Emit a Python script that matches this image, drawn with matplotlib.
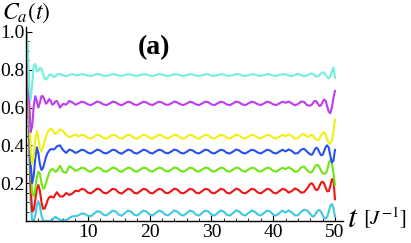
import numpy as np
import matplotlib
matplotlib.use('Agg')
import matplotlib.pyplot as plt
from matplotlib.ticker import MultipleLocator, FixedLocator

plt.rcParams['font.family'] = ['Liberation Serif', 'DejaVu Serif']
plt.rcParams['mathtext.fontset'] = 'stix'

# time grid (J^-1)
t = np.concatenate([np.arange(0, 5, 0.25), np.arange(5, 46, 0.5), np.arange(46, 50.001, 0.25)])

turquoise = [
    1.0, 0.93, 0.72, 0.64, 0.72, 0.82, 0.83, 0.79, 0.795, 0.81, 0.805, 0.78, 0.755, 0.748, 0.76, 0.772, 0.775, 0.77, 0.762, 0.765,
    0.775, 0.778, 0.77, 0.766, 0.772, 0.777, 0.772,
    .772, .776, .775, .769, .767, .772, .777, .775, .769, .767, .771, .776, .775, .770, .767, .772, .776, .774, .769, .768,
    .772, .776, .775, .769, .767, .771, .777, .775, .769, .766, .772, .776, .775, .770, .767, .772, .776, .775, .769, .767,
    .771, .776, .776, .769, .767, .772, .776, .775, .769, .768, .772, .777, .775, .769, .767, .771, .776, .775, .770, .767,
    .772, .776, .775, .769, .767, .772, .776,
    .775, .770, .766, .772, .778, .772, .765, .770,
    .778, .780, .776, .768, .763, .765, .772, .781, .786, .784, .773, .760, .754, .765, .792, .812, .758]

purple = [
    1.0, 0.90, 0.65, 0.47, 0.50, 0.61, 0.66, 0.635, 0.60, 0.625, 0.66, 0.66, 0.64, 0.62, 0.63, 0.645, 0.635, 0.615, 0.62, 0.632,
    0.635, 0.60, 0.62, 0.615, 0.635, 0.628, 0.615,
    .622, .631, .627, .617, .613, .622, .632, .627, .617, .613, .621, .631, .628, .617, .612, .622, .631, .627, .616, .613,
    .622, .631, .627, .617, .613, .623, .631, .627, .617, .614, .622, .632, .627, .617, .613, .621, .631, .627, .617, .613,
    .622, .631, .628, .617, .613, .622, .631, .627, .616, .613, .622, .632, .627, .617, .613, .622, .631, .627, .618, .613,
    .622, .631, .627, .617, .613, .622, .631,
    .625, .632, .622, .612, .618, .632, .630, .612,
    .610, .615, .628, .636, .632, .620, .608, .612, .630, .642, .635, .605, .578, .570, .600, .650, .688]

yellow = [
    1.0, 0.88, 0.60, 0.38, 0.30, 0.34, 0.43, 0.475, 0.44, 0.385, 0.37, 0.39, 0.42, 0.45, 0.47, 0.482, 0.487, 0.484, 0.47, 0.46,
    0.465, 0.485, 0.475, 0.455, 0.443, 0.45, 0.458,
    .446, .456, .452, .440, .436, .446, .457, .452, .440, .436, .445, .456, .453, .440, .435, .446, .456, .452, .439, .436,
    .446, .456, .452, .440, .436, .447, .456, .452, .440, .437, .446, .457, .452, .440, .436, .445, .456, .452, .440, .436,
    .446, .456, .453, .440, .436, .446, .456, .452, .439, .436, .446, .457, .452, .440, .436, .446, .456, .452, .441, .436,
    .446, .456, .452, .440, .436, .446, .456,
    .448, .458, .450, .436, .438, .455, .460, .444,
    .452, .456, .450, .438, .430, .428, .435, .452, .466, .468, .455, .432, .413, .408, .425, .475, .535]

blue = [
    1.0, 0.86, 0.55, 0.30, 0.20, 0.24, 0.33, 0.39, 0.36, 0.30, 0.27, 0.28, 0.31, 0.34, 0.36, 0.372, 0.38, 0.38, 0.378, 0.385,
    0.395, 0.40, 0.375, 0.36, 0.378, 0.372, 0.36,
    .367, .377, .373, .361, .357, .367, .378, .373, .361, .357, .366, .377, .374, .361, .356, .367, .377, .373, .360, .357,
    .367, .377, .373, .361, .357, .368, .377, .373, .361, .358, .367, .378, .373, .361, .357, .366, .377, .373, .361, .357,
    .367, .377, .374, .361, .357, .367, .377, .373, .360, .357, .367, .378, .373, .361, .357, .367, .377, .373, .362, .357,
    .367, .377, .373, .361, .357, .367, .377,
    .368, .378, .371, .357, .359, .377, .382, .366,
    .352, .350, .362, .380, .388, .380, .362, .348, .350, .370, .392, .400, .388, .345, .310, .318, .376]

green = [
    1.0, 0.85, 0.52, 0.27, 0.15, 0.13, 0.17, 0.23, 0.26, 0.25, 0.20, 0.17, 0.175, 0.20, 0.23, 0.255, 0.27, 0.275, 0.27, 0.26,
    0.265, 0.292, 0.26, 0.255, 0.29, 0.28, 0.265,
    .272, .282, .279, .265, .261, .272, .283, .279, .265, .261, .271, .282, .280, .265, .260, .272, .282, .279, .264, .261,
    .272, .282, .279, .265, .261, .273, .282, .279, .265, .262, .272, .283, .279, .265, .261, .271, .282, .279, .265, .261,
    .272, .282, .280, .265, .261, .272, .282, .279, .264, .261, .272, .283, .279, .265, .261, .272, .282, .279, .266, .261,
    .272, .282, .279, .265, .261, .272, .282,
    .274, .284, .275, .260, .263, .283, .288, .268,
    .255, .258, .272, .288, .296, .296, .284, .266, .254, .250, .252, .270, .305, .324, .310, .255, .190]

red = [
    1.0, 0.84, 0.48, 0.18, 0.05, 0.06, 0.11, 0.17, 0.19, 0.16, 0.10, 0.065, 0.065, 0.085, 0.11, 0.125, 0.13, 0.125, 0.125, 0.14,
    0.152, 0.13, 0.13, 0.148, 0.138, 0.145, 0.16,
    .158, .170, .166, .150, .146, .158, .171, .166, .150, .146, .157, .170, .167, .150, .145, .158, .170, .166, .149, .146,
    .158, .170, .166, .150, .146, .159, .170, .166, .150, .147, .158, .171, .166, .150, .146, .157, .170, .166, .150, .146,
    .158, .170, .167, .150, .146, .158, .170, .166, .149, .146, .158, .171, .166, .150, .146, .158, .170, .166, .151, .146,
    .158, .170, .166, .150, .146, .158, .170,
    .165, .150, .158, .172, .165, .150, .152, .172,
    .196, .200, .190, .172, .163, .168, .185, .203, .208, .198, .175, .157, .158, .185, .220, .222, .115]

cyan = [
    1.0, 0.82, 0.42, 0.10, 0.0, 0.0, 0.03, 0.085, 0.105, 0.08, 0.03, 0.003, 0.0, 0.0, 0.0, 0.0, 0.0, 0.005, 0.015, 0.022,
    0.015, 0.008, 0.002, 0.005, 0.015, 0.025, 0.025,
    .030, .040, .038, .028, .025, .038, .052, .049, .034, .029, .041, .055, .051, .034, .028, .042, .055, .050, .033, .029,
    .042, .055, .050, .034, .029, .043, .055, .050, .034, .030, .042, .056, .050, .034, .029, .041, .055, .050, .034, .029,
    .042, .055, .051, .034, .029, .042, .055, .050, .033, .029, .042, .056, .050, .034, .029, .042, .055, .050, .035, .029,
    .042, .055, .050, .034, .029, .042, .055,
    .045, .056, .046, .030, .030, .048, .060, .055,
    .038, .028, .023, .030, .045, .056, .058, .048, .030, .016, .013, .022, .050, .080, .090, .070, .023]

series = [
    (cyan, '#40C8DC'),
    (red, '#F01414'),
    (green, '#6EE614'),
    (blue, '#2850F0'),
    (yellow, '#F0F014'),
    (purple, '#BE3CF0'),
    (turquoise, '#70F0DC'),
]

fig = plt.figure(figsize=(4.11, 2.43), dpi=100)
ax = fig.add_axes([26/411, 22/243, (343-26)/411, (221-27)/243])
for vals, col in series:
    ax.plot(t, vals, color=col, lw=1.5, solid_joinstyle='round')

ax.set_xlim(0, 51.3)
ax.set_ylim(0, 1.026)
for s in ['top', 'right']:
    ax.spines[s].set_visible(False)
for s in ['left', 'bottom']:
    ax.spines[s].set_linewidth(1.0)

ax.xaxis.set_major_locator(FixedLocator([10, 20, 30, 40, 50]))
ax.xaxis.set_minor_locator(MultipleLocator(2))
ax.yaxis.set_major_locator(FixedLocator([0.2, 0.4, 0.6, 0.8, 1.0]))
ax.yaxis.set_minor_locator(MultipleLocator(0.05))
ax.set_xticklabels(['10', '20', '30', '40', '50'])
ax.set_yticklabels(['0.2', '0.4', '0.6', '0.8', '1.0'])
ax.tick_params(which='major', direction='in', length=4, width=0.8, labelsize=14, pad=2)
ax.tick_params(axis='y', which='major', pad=1)
ax.tick_params(which='minor', direction='in', length=2.2, width=0.6)

fig.text(2/411, 1 - 1/243, r'$C_a(t)$', fontsize=17, va='top', ha='left')
fig.text(154/411, 1 - 48/243, '(a)', fontsize=20, fontweight='bold', ha='center', va='center')
fig.text(347/411, 1 - 219/243, r'$t$', fontsize=23, ha='left', va='center')
fig.text(363/411, 1 - 218/243, r'$[J^{-1}]$', fontsize=15, ha='left', va='center')

fig.savefig('out.png', dpi=100)
